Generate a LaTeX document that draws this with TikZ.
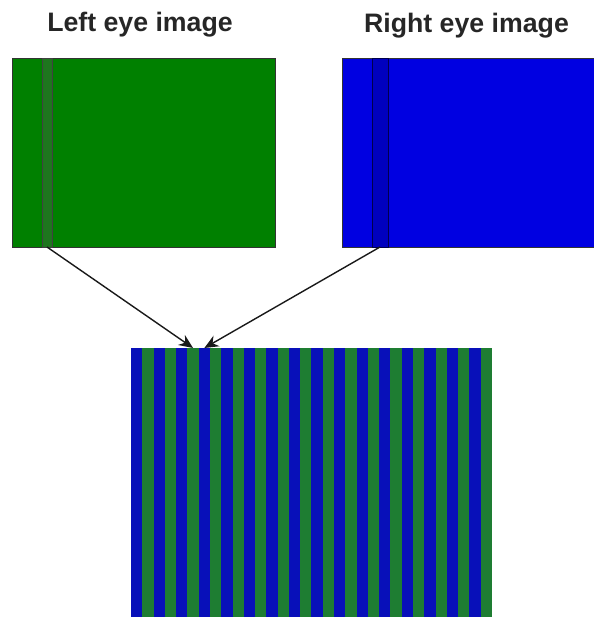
\documentclass[tikz,border=0pt]{standalone}
\usepackage{fontspec}
\setmainfont{Liberation Sans}
\usetikzlibrary{arrows.meta, positioning}

\definecolor{eyeG}{RGB}{0,128,0}
\definecolor{eyeB}{RGB}{0,0,225}
\definecolor{slitG}{RGB}{30,118,30}
\definecolor{slitB}{RGB}{0,0,190}
\definecolor{stripG}{RGB}{30,125,50}
\definecolor{stripB}{RGB}{8,16,185}

\begin{document}
\begin{tikzpicture}[
    x=1pt, y=-1pt,
    titlefont/.style={font=\bfseries\fontsize{26.7}{30}\selectfont, text=black!85, anchor=base},
    eyebox/.style={draw=black!80, line width=0.8pt, inner sep=0pt, outer sep=0pt, minimum height=189pt},
    slitbox/.style={draw=black!75, line width=0.8pt, inner sep=0pt, outer sep=0pt, minimum height=189pt},
    stripe/.style={inner sep=0pt, outer sep=0pt, minimum width=11.28pt, minimum height=270pt},
    ptr/.style={-{Stealth[length=14pt,width=12pt]}, line width=1.4pt, draw=black!90},
]
\useasboundingbox (0,0) rectangle (593,617);

% Titles
\node[titlefont] (ltitle) at (140,32) {Left eye image};
\node[titlefont] (rtitle) at (466.5,33) {Right eye image};

% Left eye image with one marked column
\node[eyebox, fill=eyeG, minimum width=263pt] (leye) at (143.5,152.5) {};
\node[slitbox, fill=slitG, minimum width=10pt] (lslit) at (47,152.5) {};

% Right eye image (runs off the right edge)
\node[eyebox, fill=eyeB, minimum width=262pt] (reye) at (473,152.5) {};
\node[slitbox, draw=blue!30!black, fill=slitB, minimum width=16pt] (rslit) at (380,152.5) {};

% Interleaved result: blue and green columns
\foreach \k in {0,...,31} {
    \pgfmathsetmacro{\cx}{131+11.28*(\k+0.5)}
    \ifodd\k
        \node[stripe, fill=stripG] (s\k) at (\cx,483) {};
    \else
        \node[stripe, fill=stripB] (s\k) at (\cx,483) {};
    \fi
}

% Each marked column goes to its own column in the result
\draw[ptr] (lslit.south) -- (s5.north);
\draw[ptr] (rslit.south) -- (s6.north);

\end{tikzpicture}
\end{document}
